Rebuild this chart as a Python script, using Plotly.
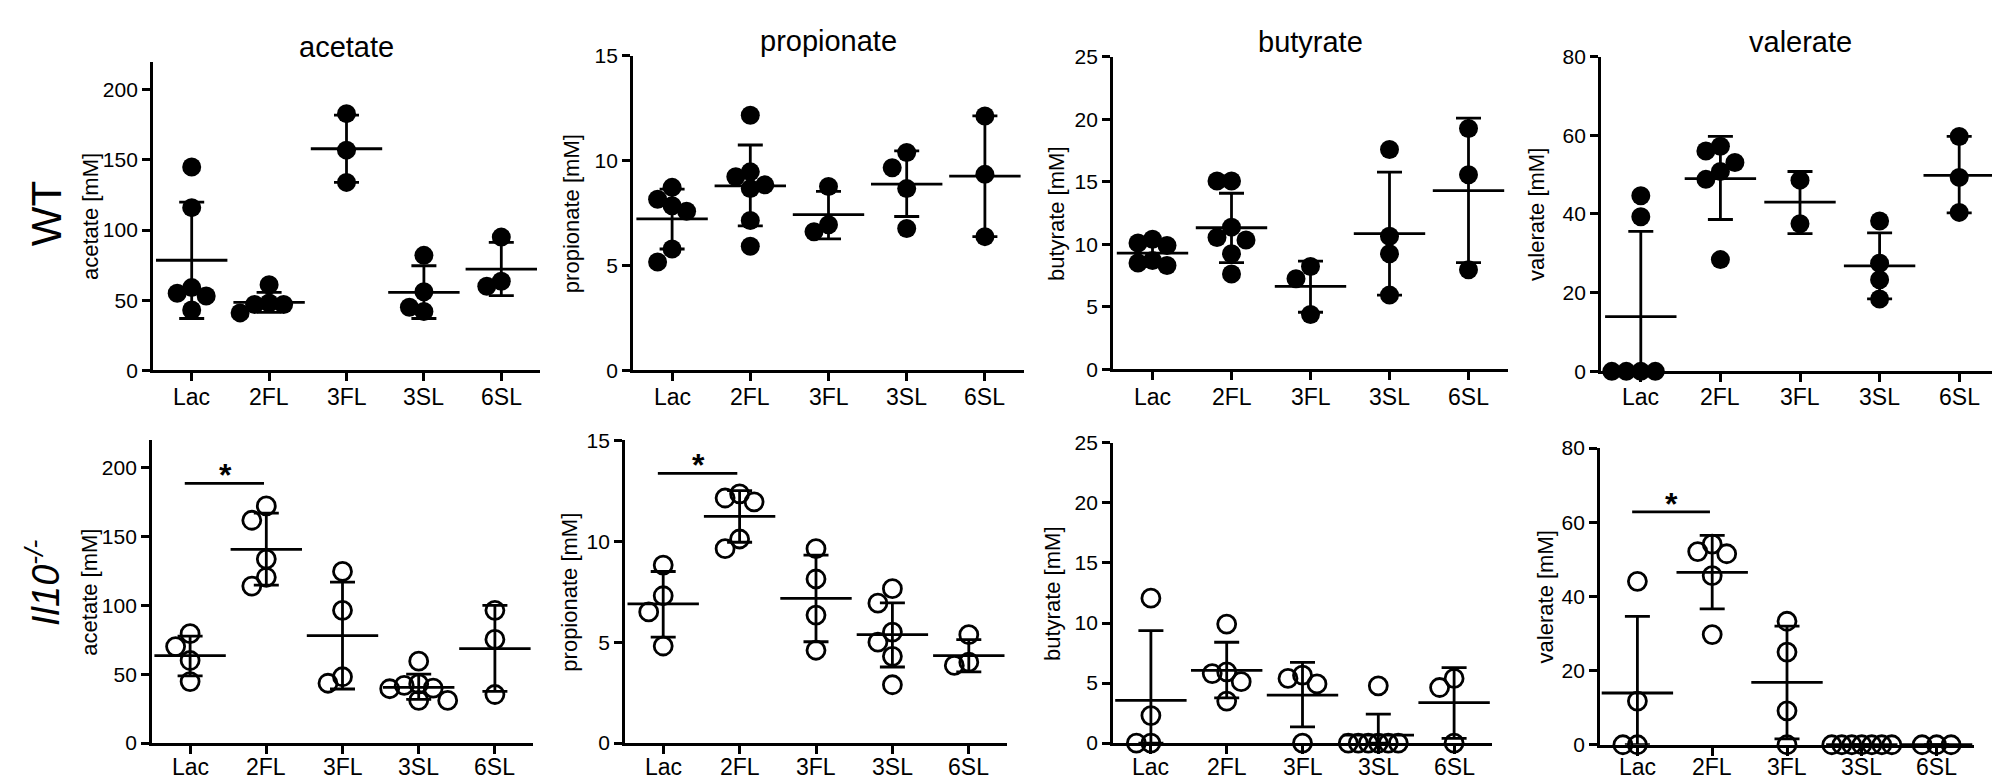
import numpy as np
import plotly.graph_objects as go

W, H = 2000, 783

categories = ["Lac", "2FL", "3FL", "3SL", "6SL"]
analytes = ["acetate", "propionate", "butyrate", "valerate"]
row_labels = ["WT", "<i>Il10<sup>-/-</sup></i>"]

# ---------------- WT (row 1) ----------------
acetate_wt = [[55, 43, 145, 116, 59, 53], [61, 47, 48, 47, 41], [183, 157, 134],
              [82, 56, 42, 45], [95, 60, 63.5]]
acetate_wt_mean = [78.5, 48.5, 158, 55.6, 72.2]
acetate_wt_hi = [120, 55.6, 182, 74.6, 91.2]
acetate_wt_lo = [37, 41.4, 134, 37, 53.3]

propionate_wt = [[8.73, 7.85, 8.16, 7.59, 5.79, 5.17], [12.17, 9.47, 8.85, 9.24, 8.67, 7.15, 5.92],
                 [8.77, 6.61, 6.95], [10.39, 9.67, 8.67, 6.77], [12.13, 9.35, 6.38]]
propionate_wt_mean = [7.23, 8.80, 7.43, 8.88, 9.27]
propionate_wt_hi = [8.65, 10.75, 8.54, 10.47, 12.14]
propionate_wt_lo = [5.79, 6.89, 6.27, 7.34, 6.38]

butyrate_wt = [[10.1, 10.4, 9.9, 8.7, 8.3, 8.5], [15.06, 15.06, 10.54, 11.37, 10.34, 9.25, 7.62],
               [8.22, 7.24, 4.39], [17.57, 10.64, 9.25, 5.94], [19.25, 15.56, 7.96]]
butyrate_wt_mean = [9.3, 11.32, 6.64, 10.85, 14.29]
butyrate_wt_hi = [10.2, 14.08, 8.66, 15.76, 20.08]
butyrate_wt_lo = [8.4, 8.53, 4.57, 5.94, 8.53]

valerate_wt = [[44.65, 39.3, 0, 0, 0, 0], [56.0, 57.2, 53.1, 50.8, 48.8, 28.4], [48.6, 37.5],
               [38.2, 27.5, 23.3, 18.4], [59.7, 49.3, 40.4]]
valerate_wt_mean = [13.9, 49.0, 43.0, 26.8, 49.8]
valerate_wt_hi = [35.6, 59.7, 50.8, 35.2, 59.7]
valerate_wt_lo = [0, 38.6, 35.0, 18.4, 40.3]

# ---------------- Il10-/- (row 2) ----------------
acetate_ko = [[79.5, 70.1, 60.0, 44.7], [172.3, 161.9, 133.7, 120.5, 114.1], [124.7, 96.5, 43.5, 48.2],
              [59.5, 39.5, 42, 40, 43, 31, 31], [96.5, 75.3, 35.3]]
acetate_ko_mean = [63.5, 140.7, 78.1, 40.5, 68.7]
acetate_ko_hi = [77.7, 167.1, 117.0, 50.1, 100.0]
acetate_ko_lo = [48.9, 114.8, 39.3, 31.8, 37.6]

propionate_ko = [[8.82, 7.30, 6.50, 4.81], [12.14, 12.35, 11.95, 9.63, 10.11], [9.63, 8.13, 6.34, 4.60],
                 [7.65, 6.93, 5.5, 5.0, 4.3, 2.89], [5.37, 3.85, 4.01]]
propionate_ko_mean = [6.90, 11.23, 7.17, 5.37, 4.33]
propionate_ko_hi = [8.50, 12.51, 9.31, 6.95, 5.13]
propionate_ko_lo = [5.25, 9.95, 5.02, 3.77, 3.53]

butyrate_ko = [[12.07, 2.29, 0, 0], [9.91, 5.79, 5.93, 5.12, 3.50], [5.39, 5.66, 4.93, 0],
               [4.77, 0, 0, 0, 0, 0, 0], [5.39, 4.63, 0]]
butyrate_ko_mean = [3.56, 6.06, 3.99, 0.67, 3.37]
butyrate_ko_hi = [9.37, 8.40, 6.73, 2.42, 6.28]
butyrate_ko_lo = [0, 3.77, 1.35, 0, 0.40]

valerate_ko = [[44.07, 11.78, 0, 0], [54.1, 51.5, 52.1, 45.6, 29.7], [33.3, 25.0, 9.16, 0],
               [0, 0, 0, 0, 0, 0, 0], [0, 0, 0]]
valerate_ko_mean = [13.96, 46.5, 16.84, 0, 0]
valerate_ko_hi = [34.64, 56.46, 32.0, 0, 0]
valerate_ko_lo = [0, 36.65, 1.57, 0, 0]

y_max = [220, 15, 25, 80]
y_dtick = [50, 5, 5, 20]

# significance (Lac vs 2FL) in the Il10-/- row: bar height per analyte (None = none)
sig_bar_y = [188.7, 13.36, None, 62.8]
sig_label = "*"

series = [
    [(acetate_wt, acetate_wt_mean, acetate_wt_hi, acetate_wt_lo),
     (propionate_wt, propionate_wt_mean, propionate_wt_hi, propionate_wt_lo),
     (butyrate_wt, butyrate_wt_mean, butyrate_wt_hi, butyrate_wt_lo),
     (valerate_wt, valerate_wt_mean, valerate_wt_hi, valerate_wt_lo)],
    [(acetate_ko, acetate_ko_mean, acetate_ko_hi, acetate_ko_lo),
     (propionate_ko, propionate_ko_mean, propionate_ko_hi, propionate_ko_lo),
     (butyrate_ko, butyrate_ko_mean, butyrate_ko_hi, butyrate_ko_lo),
     (valerate_ko, valerate_ko_mean, valerate_ko_hi, valerate_ko_lo)],
]

# ---------------- layout geometry (pixels) ----------------
# (x0, x1, ytop, ybottom) of each plotting area
panel_px = [
    [(145, 532, 43, 361), (625, 1016, 37, 361), (1105, 1500, 37.7, 360), (1593, 1991, 37.7, 362)],
    [(144, 525, 433, 745), (617, 999, 433, 745), (1105, 1484, 435.7, 745), (1592, 1966, 441, 746.7)],
]
ytitle_x = [[82, 563, 1049, 1529], [82, 562, 1045, 1537]]
xlabel_y = [388, 770]

FONT = "Liberation Sans, Arial, sans-serif"
LW = 2.8
MS = 19


def swarm(vals, ppu_y, ppc_x, step=14.5, dmin=17.0, lim=30.0):
    """Prism-like scatter: offset points sideways in columns when they collide."""
    vals = list(vals)
    order = sorted(range(len(vals)), key=lambda i: -vals[i])
    placed, cols = [], [0] * len(vals)
    cand = [0]
    for k in range(1, 12):
        cand += [-k, k]
    for i in order:
        y = vals[i] * ppu_y
        for k in cand:
            if all(not (c == k and abs(yy - y) < dmin) for c, yy in placed):
                break
        cols[i] = k
        placed.append((k, y))
    offs = np.array(cols, dtype=float) * step
    m = np.abs(offs).max() if len(offs) else 0
    if m > lim:
        offs *= lim / m
    return offs / ppc_x


fig = go.Figure()
layout = dict(width=W, height=H, margin=dict(l=0, r=0, t=0, b=0),
              plot_bgcolor="white", paper_bgcolor="white", showlegend=False,
              font=dict(family=FONT, color="black"))
annotations, shapes = [], []

idx = 0
for r in range(2):
    for c in range(4):
        idx += 1
        sfx = "" if idx == 1 else str(idx)
        xa, ya = "x" + sfx, "y" + sfx
        x0, x1, yt, yb = panel_px[r][c]
        pts, mean, hi, lo = series[r][c]
        ppc = (x1 - x0) / 5.0
        ppu = (yb - yt) / y_max[c]

        # mean line + SD
        fig.add_trace(go.Scatter(
            x=list(range(5)), y=mean, xaxis=xa, yaxis=ya, mode="markers",
            marker=dict(symbol="line-ew", size=51, color="black", line=dict(width=LW, color="black")),
            error_y=dict(type="data", symmetric=False,
                         array=[h - m for h, m in zip(hi, mean)],
                         arrayminus=[m - l for m, l in zip(mean, lo)],
                         width=12.5, thickness=LW, color="black"),
            cliponaxis=False, hoverinfo="skip"))

        # individual points
        xs, ys = [], []
        for k, v in enumerate(pts):
            offs = swarm(v, ppu, ppc)
            xs += list(k + offs)
            ys += list(v)
        if r == 0:
            mk = dict(symbol="circle", size=MS, color="black", line=dict(width=0))
        else:
            mk = dict(symbol="circle-open", size=MS - 1, color="black", line=dict(width=LW, color="black"))
        fig.add_trace(go.Scatter(x=xs, y=ys, xaxis=xa, yaxis=ya, mode="markers",
                                 marker=mk, cliponaxis=False, hoverinfo="skip"))

        layout["xaxis" + sfx] = dict(
            domain=[x0 / W, x1 / W], anchor=ya, range=[-0.5, 4.5],
            tickmode="array", tickvals=list(range(5)), showticklabels=False,
            showgrid=False, zeroline=False, showline=True, linecolor="black", linewidth=LW,
            ticks="outside", ticklen=8, tickwidth=LW, tickcolor="black", fixedrange=True)
        layout["yaxis" + sfx] = dict(
            domain=[1 - yb / H, 1 - yt / H], anchor=xa, range=[0, y_max[c]],
            tickmode="linear", tick0=0, dtick=y_dtick[c],
            showgrid=False, zeroline=False, showline=True, linecolor="black", linewidth=LW,
            ticks="outside", ticklen=8, tickwidth=LW, tickcolor="black",
            tickfont=dict(size=21, family=FONT, color="black"), fixedrange=True)

        # category labels under the x axis
        for k, cat in enumerate(categories):
            annotations.append(dict(
                text=cat, xref=xa, yref="paper", x=k, y=1 - xlabel_y[r] / H,
                xanchor="center", yanchor="middle", showarrow=False,
                font=dict(size=23, family=FONT, color="black")))

        # y-axis title
        annotations.append(dict(
            text=f"{analytes[c]} [mM]", textangle=-90, xref="paper", yref="paper",
            x=ytitle_x[r][c] / W, y=1 - ((yt + yb) / 2 + 1) / H,
            xanchor="center", yanchor="middle", showarrow=False,
            font=dict(size=22, family=FONT, color="black")))

        # column title (top row only)
        if r == 0:
            annotations.append(dict(
                text=analytes[c], xref="paper", yref="paper",
                x=(x0 + x1) / 2 / W, y=1 - (yt - 15) / H,
                xanchor="center", yanchor="middle", showarrow=False,
                font=dict(size=29, family=FONT, color="black")))

        # significance bar
        if r == 1 and sig_bar_y[c] is not None:
            shapes.append(dict(type="line", xref=xa, yref=ya, x0=-0.07, x1=0.97,
                               y0=sig_bar_y[c], y1=sig_bar_y[c],
                               line=dict(color="black", width=LW)))
            annotations.append(dict(
                text=sig_label, xref=xa, yref=ya, x=0.46, y=sig_bar_y[c],
                xanchor="center", yanchor="bottom", yshift=-12, showarrow=False,
                font=dict(size=32, family=FONT, color="black", weight="bold")))

# row labels
annotations.append(dict(text=row_labels[0], textangle=-90, xref="paper", yref="paper",
                        x=38 / W, y=1 - 200 / H, xanchor="center", yanchor="middle",
                        showarrow=False, font=dict(size=42, family=FONT, color="black")))
annotations.append(dict(text=row_labels[1], textangle=-90, xref="paper", yref="paper",
                        x=35 / W, y=1 - 580 / H, xanchor="center", yanchor="middle",
                        showarrow=False, font=dict(size=38, family=FONT, color="black")))

layout["annotations"] = annotations
layout["shapes"] = shapes
fig.update_layout(**layout)
fig.write_html("out.html")
